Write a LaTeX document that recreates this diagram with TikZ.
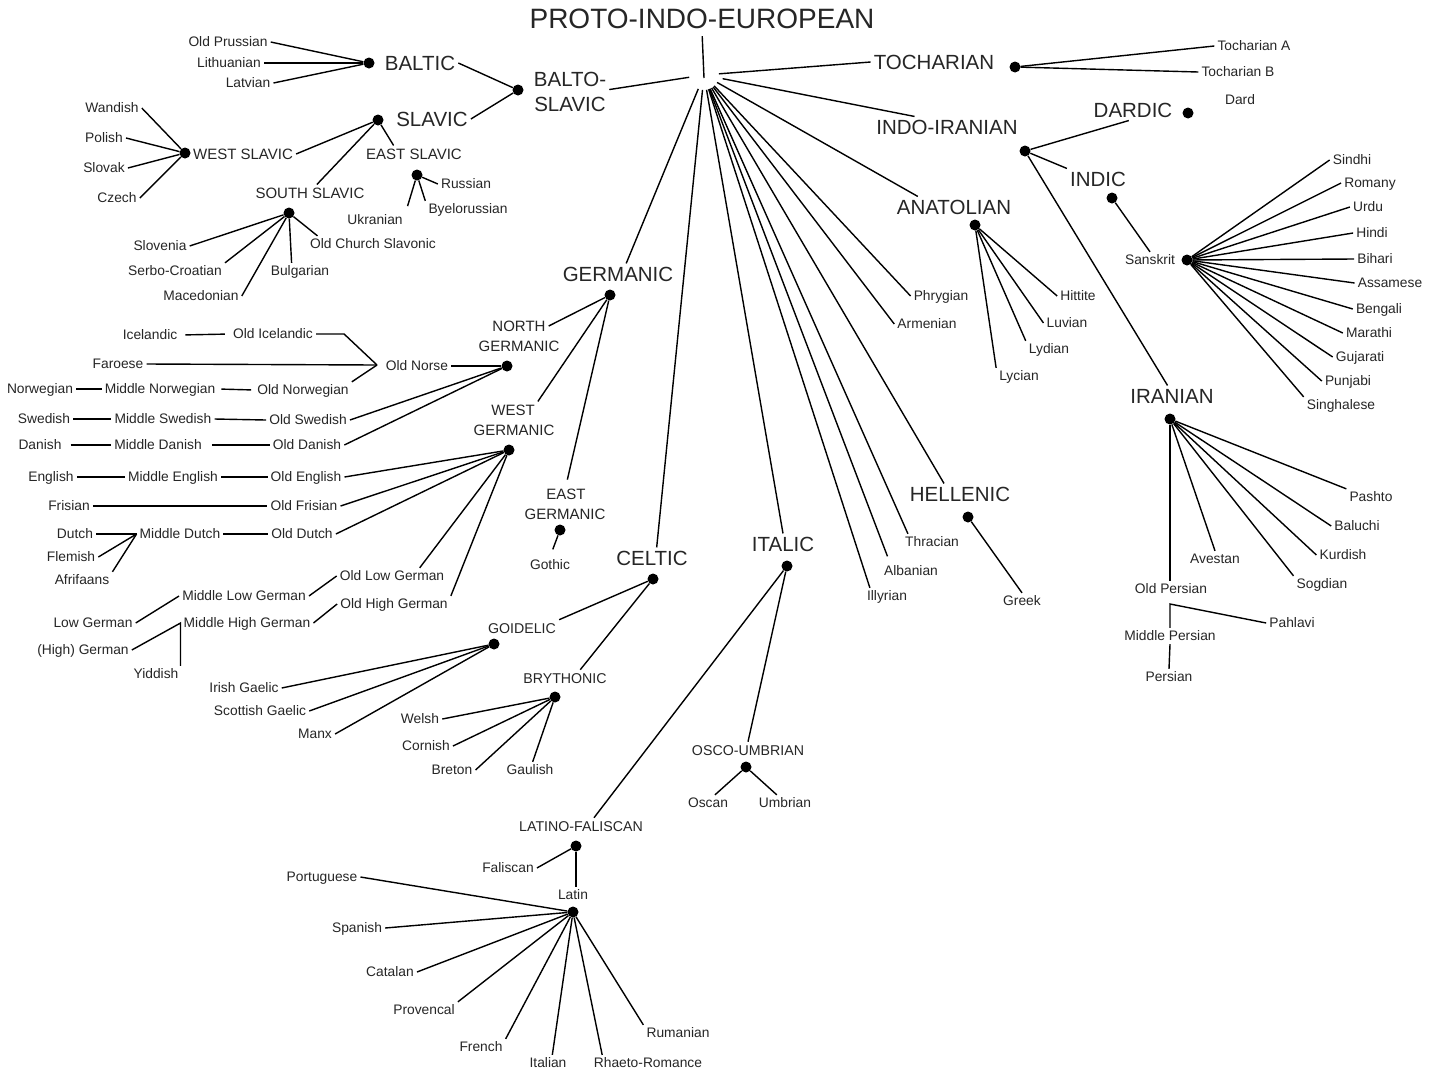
\documentclass[tikz,border=0pt]{standalone}
\usepackage{fontspec}
\setmainfont{Liberation Sans}
\usetikzlibrary{calc}
\begin{document}
\begin{tikzpicture}[x=1pt,y=-1pt]
\tikzset{
  lab/.style={inner xsep=3pt, inner ysep=3pt, text depth=0pt, text height=9.9pt, text=black!85, font=\fontsize{13.8}{16}\selectfont},
  mid/.style={lab, text height=10.7pt, font=\fontsize{15}{18}\selectfont},
  mids/.style={lab, text height=10.2pt, font=\fontsize{14.2}{17}\selectfont},
  big/.style={lab, text height=14.7pt, font=\fontsize{20.5}{24}\selectfont},
  ttl/.style={lab, text height=20pt, font=\fontsize{28}{32}\selectfont},
  jdot/.style={circle, fill=black, minimum size=11pt, inner sep=0pt},
  conn/.style={line width=1.4pt, black},
}
\fill[white] (0,0) rectangle (1442,1077);
\useasboundingbox (0,0) rectangle (1442,1077);

% ---------- title ----------
\node[ttl] (pie) at (702,18) {PROTO-INDO-EUROPEAN};
\coordinate (hub) at (704,75);
\coordinate (piebot) at (704,78);

% ---------- Baltic / Slavic ----------
\node[lab] (opr) at (228,42) {Old Prussian};
\node[lab] (lith) at (229,63) {Lithuanian};
\node[lab] (latv) at (248,83) {Latvian};
\node[big] (baltic) at (420,63) {BALTIC};
\node[jdot] (baltdot) at (369,63) {};
\node[big] (slavic) at (432,119) {SLAVIC};
\node[jdot] (slavdot) at (378,120) {};
\node[jdot] (bsdot) at (518,90) {};
\node[big] (bs1) at (570,79) {BALTO-};
\node[big] (bs2) at (570,104) {SLAVIC};
\node[lab] (wand) at (112,108) {Wandish};
\node[lab] (pol) at (104,138) {Polish};
\node[lab] (slovak) at (104,168) {Slovak};
\node[lab] (czech) at (117,198) {Czech};
\node[jdot] (wsdot) at (185,153) {};
\node[mid] (ws) at (243,154) {WEST SLAVIC};
\node[mid] (es) at (414,154) {EAST SLAVIC};
\node[mid] (ss) at (310,193) {SOUTH SLAVIC};
\node[jdot] (esdot) at (417,175) {};
\node[lab] (rus) at (466,184) {Russian};
\node[lab] (byel) at (468,209) {Byelorussian};
\node[lab] (ukr) at (375,220) {Ukranian};
\node[jdot] (ssdot) at (289,213) {};
\node[lab] (slvn) at (160,246) {Slovenia};
\node[lab] (serbo) at (175,271) {Serbo-Croatian};
\node[lab] (maced) at (201,296) {Macedonian};
\node[lab] (bulg) at (300,271) {Bulgarian};
\node[lab] (ocs) at (373,244) {Old Church Slavonic};

% ---------- Tocharian ----------
\node[big] (tochar) at (934,62) {TOCHARIAN};
\node[jdot] (tochdot) at (1015,67) {};
\node[lab] (tochA) at (1254,46) {Tocharian A};
\node[lab] (tochB) at (1238,72) {Tocharian B};
\node[lab] (dard) at (1240,100) {Dard};

% ---------- Indo-Iranian ----------
\node[big] (indoiran) at (947,127) {INDO-IRANIAN};
\node[jdot] (iidot) at (1025,151) {};
\node[big] (dardic) at (1133,110) {DARDIC};
\node[jdot] (darddot) at (1188,113) {};
\node[big] (indic) at (1098,179) {INDIC};
\node[jdot] (indicdot) at (1112,198) {};
\node[big] (iranian) at (1172,396) {IRANIAN};
\node[jdot] (irandot) at (1170,419) {};
\node[lab] (sansk) at (1150,260) {Sanskrit};
\node[jdot] (sanskdot) at (1187,260) {};
\node[lab] (sindhi) at (1352,160) {Sindhi};
\node[lab] (romany) at (1370,183) {Romany};
\node[lab] (urdu) at (1368,207) {Urdu};
\node[lab] (hindi) at (1372,233) {Hindi};
\node[lab] (bihari) at (1375,259) {Bihari};
\node[lab] (assam) at (1390,283) {Assamese};
\node[lab] (bengali) at (1379,309) {Bengali};
\node[lab] (marathi) at (1369,333) {Marathi};
\node[lab] (gujarati) at (1360,357) {Gujarati};
\node[lab] (punjabi) at (1348,381) {Punjabi};
\node[lab] (singh) at (1341,405) {Singhalese};
\node[lab] (pashto) at (1371,497) {Pashto};
\node[lab] (baluchi) at (1357,526) {Baluchi};
\node[lab] (kurdish) at (1343,555) {Kurdish};
\node[lab] (sogdian) at (1322,584) {Sogdian};
\node[lab] (avestan) at (1215,559) {Avestan};
\node[lab] (oldpers) at (1171,589) {Old Persian};
\node[lab] (midpers) at (1170,636) {Middle Persian};
\node[lab] (persian) at (1169,677) {Persian};
\node[lab] (pahlavi) at (1292,623) {Pahlavi};
\coordinate (opj) at (1170,604);

% ---------- Anatolian / others ----------
\node[big] (anat) at (954,207) {ANATOLIAN};
\node[jdot] (anatdot) at (975,225) {};
\node[lab] (hittite) at (1078,296) {Hittite};
\node[lab] (luvian) at (1067,323) {Luvian};
\node[lab] (lydian) at (1049,349) {Lydian};
\node[lab] (lycian) at (1019,376) {Lycian};
\node[lab] (phryg) at (941,296) {Phrygian};
\node[lab] (armen) at (927,324) {Armenian};
\node[big] (hell) at (960,494) {HELLENIC};
\node[jdot] (helldot) at (968,517) {};
\node[lab] (greek) at (1022,601) {Greek};
\node[lab] (thrac) at (932,542) {Thracian};
\node[lab] (alban) at (911,571) {Albanian};
\node[lab] (illyr) at (887,596) {Illyrian};

% ---------- Italic ----------
\node[big] (italic) at (783,544) {ITALIC};
\node[jdot] (italdot) at (787,566) {};
\node[mids] (osco) at (748,750) {OSCO-UMBRIAN};
\node[jdot] (oscodot) at (746,767) {};
\node[lab] (oscan) at (708,803) {Oscan};
\node[lab] (umbr) at (785,803) {Umbrian};
\node[mids] (lf) at (581,826) {LATINO-FALISCAN};
\node[jdot] (lfdot) at (576,846) {};
\node[lab] (fal) at (508,868) {Faliscan};
\node[lab] (latin) at (573,895) {Latin};
\node[jdot] (latindot) at (573,912) {};
\node[lab] (port) at (322,877) {Portuguese};
\node[lab] (span) at (357,928) {Spanish};
\node[lab] (catal) at (390,972) {Catalan};
\node[lab] (prov) at (424,1010) {Provencal};
\node[lab] (french) at (481,1047) {French};
\node[lab] (italian) at (548,1063) {Italian};
\node[lab] (rhaeto) at (648,1063) {Rhaeto-Romance};
\node[lab] (ruman) at (678,1033) {Rumanian};

% ---------- Celtic ----------
\node[big] (celtic) at (652,558) {CELTIC};
\node[jdot] (celtdot) at (653,579) {};
\node[mids] (goid) at (522,628) {GOIDELIC};
\node[jdot] (goiddot) at (494,644) {};
\node[lab] (irish) at (244,688) {Irish Gaelic};
\node[lab] (scot) at (260,711) {Scottish Gaelic};
\node[lab] (manx) at (315,734) {Manx};
\node[mids] (bryth) at (565,678) {BRYTHONIC};
\node[jdot] (brythdot) at (555,697) {};
\node[lab] (welsh) at (420,719) {Welsh};
\node[lab] (cornish) at (426,746) {Cornish};
\node[lab] (breton) at (452,770) {Breton};
\node[lab] (gaulish) at (530,770) {Gaulish};

% ---------- Germanic ----------
\node[big] (germ) at (618,274) {GERMANIC};
\node[jdot] (germdot) at (610,295) {};
\node[mid] (ng1) at (519,326) {NORTH};
\node[mid] (ng2) at (519,346) {GERMANIC};
\node[jdot] (ngdot) at (507,366) {};
\node[mid] (wg1) at (513,410) {WEST};
\node[mid] (wg2) at (514,430) {GERMANIC};
\node[jdot] (wgdot) at (509,450) {};
\node[mid] (eg1) at (566,494) {EAST};
\node[mid] (eg2) at (565,514) {GERMANIC};
\node[jdot] (egdot) at (560,530) {};
\node[lab] (gothic) at (550,565) {Gothic};
\node[lab] (oldnorse) at (417,366) {Old Norse};
\coordinate (onj) at (377,365);
\node[lab] (icel) at (150,335) {Icelandic};
\node[lab] (oicel) at (273,334) {Old Icelandic};
\node[lab] (faroese) at (118,364) {Faroese};
\node[lab] (norw) at (40,389) {Norwegian};
\node[lab] (mnorw) at (160,389) {Middle Norwegian};
\node[lab] (onorw) at (303,390) {Old Norwegian};
\node[lab] (swed) at (44,419) {Swedish};
\node[lab] (mswed) at (163,419) {Middle Swedish};
\node[lab] (oswed) at (308,420) {Old Swedish};
\node[lab] (dan) at (40,445) {Danish};
\node[lab] (mdan) at (158,445) {Middle Danish};
\node[lab] (odan) at (307,445) {Old Danish};
\node[lab] (eng) at (51,477) {English};
\node[lab] (meng) at (173,477) {Middle English};
\node[lab] (oeng) at (306,477) {Old English};
\node[lab] (fris) at (69,506) {Frisian};
\node[lab] (ofris) at (304,506) {Old Frisian};
\node[lab] (dutch) at (75,534) {Dutch};
\node[lab] (mdutch) at (180,534) {Middle Dutch};
\node[lab] (odutch) at (302,534) {Old Dutch};
\node[lab] (flem) at (71,557) {Flemish};
\node[lab] (afri) at (82,580) {Afrifaans};
\node[lab] (olg) at (392,576) {Old Low German};
\node[lab] (ohg) at (394,604) {Old High German};
\node[lab] (mlg) at (244,596) {Middle Low German};
\node[lab] (mhg) at (247,623) {Middle High German};
\node[lab] (lowg) at (93,623) {Low German};
\node[lab] (highg) at (83,650) {(High) German};
\node[lab] (yid) at (156,674) {Yiddish};

% ================= connectors =================
% PIE hub
\draw[conn, shorten <=5pt] (pie.south) -- (piebot);
\begin{scope}[conn, shorten <=15pt]
\draw (hub) -- (bs1.south east);
\draw (hub) -- (tochar.west);
\draw[shorten <=19pt] (hub) -- ($(indoiran.north west)!0.28!(indoiran.north east)$);
\draw (hub) -- ($(anat.north west)!0.2!(anat.north east)$);
\draw (hub) -- (phryg.west);
\draw (hub) -- (armen.west);
\draw (hub) -- ($(hell.north west)!0.35!(hell.north east)$);
\draw (hub) -- ($(thrac.north west)!0.1!(thrac.north east)$);
\draw[shorten >=7pt] (hub) -- ($(alban.north west)!0.15!(alban.north east)$);
\draw (hub) -- ($(illyr.north west)!0.13!(illyr.north east)$);
\draw (hub) -- (italic.north);
\draw (hub) -- ($(celtic.north west)!0.56!(celtic.north east)$);
\draw (hub) -- ($(germ.north west)!0.57!(germ.north east)$);
\end{scope}

% Baltic / Slavic
\draw[conn] (opr.east) -- (baltdot);
\draw[conn] (lith.east) -- (baltdot);
\draw[conn] (latv.east) -- (baltdot);
\draw[conn] (baltic.east) -- (bsdot);
\draw[conn] (slavic.east) -- (bsdot);
\draw[conn] (ws.east) -- (slavdot);
\draw[conn] (slavdot) -- ($(es.north west)!0.3!(es.north east)$);
\draw[conn] (slavdot) -- ($(ss.north west)!0.56!(ss.north east)$);
\draw[conn] (wand.east) -- (wsdot);
\draw[conn] (pol.east) -- (wsdot);
\draw[conn] (slovak.east) -- (wsdot);
\draw[conn] (czech.east) -- (wsdot);
\draw[conn] (esdot) -- (rus.west);
\draw[conn] (esdot) -- (byel.north west);
\draw[conn, shorten >=6pt] (esdot) -- (ukr.north east);
\draw[conn] (slvn.east) -- (ssdot);
\draw[conn] (serbo.north east) -- (ssdot);
\draw[conn] (maced.east) -- (ssdot);
\draw[conn] (ssdot) -- ($(bulg.north west)!0.37!(bulg.north east)$);
\draw[conn] (ssdot) -- ($(ocs.north west)!0.08!(ocs.north east)$);

% Tocharian
\draw[conn] (tochdot) -- (tochA.west);
\draw[conn] (tochdot) -- (tochB.west);

% Indo-Iranian
\draw[conn] (iidot) -- ($(dardic.south west)!0.45!(dardic.south east)$);
\draw[conn] (iidot) -- (indic.north west);
\draw[conn] (iidot) -- ($(iranian.north west)!0.45!(iranian.north east)$);
\draw[conn] (indicdot) -- (sansk.north);
\foreach \t in {sindhi,romany,urdu,hindi,bihari,assam,bengali,marathi,gujarati,punjabi}
  \draw[conn] (sanskdot) -- (\t.west);
\draw[conn] (sanskdot) -- (singh.north west);
\draw[conn] (irandot) -- (pashto.north west);
\draw[conn] (irandot) -- (baluchi.west);
\draw[conn] (irandot) -- (kurdish.west);
\draw[conn] (irandot) -- (sogdian.north west);
\draw[conn] (irandot) -- (avestan.north);
\draw[conn] (irandot) -- (irandot |- oldpers.north);
\draw[conn] (midpers.north) -- (opj) -- (pahlavi.west);
\draw[conn] (midpers.south) -- (persian.north);

% Anatolian, Hellenic
\draw[conn] (anatdot) -- (hittite.west);
\draw[conn] (anatdot) -- (luvian.west);
\draw[conn] (anatdot) -- (lydian.north west);
\draw[conn] (anatdot) -- (lycian.north west);
\draw[conn] (helldot) -- (greek.north);

% Italic
\draw[conn] (italdot) -- ($(lf.north west)!0.6!(lf.north east)$);
\draw[conn] (italdot) -- (osco.north);
\draw[conn] (oscodot) -- ($(oscan.north west)!0.65!(oscan.north east)$);
\draw[conn] (oscodot) -- ($(umbr.north west)!0.36!(umbr.north east)$);
\draw[conn] (fal.east) -- (lfdot);
\draw[conn] (lfdot) -- (lfdot |- latin.north);
\draw[conn] (port.east) -- (latindot);
\draw[conn] (span.east) -- (latindot);
\draw[conn] (catal.east) -- (latindot);
\draw[conn] (prov.north east) -- (latindot);
\draw[conn] (french.north east) -- (latindot);
\draw[conn] ($(italian.north west)!0.6!(italian.north east)$) -- (latindot);
\draw[conn] ($(rhaeto.north west)!0.1!(rhaeto.north east)$) -- (latindot);
\draw[conn] (ruman.north west) -- (latindot);

% Celtic
\draw[conn] (celtdot) -- (goid.north east);
\draw[conn] (celtdot) -- ($(bryth.north west)!0.67!(bryth.north east)$);
\draw[conn] (irish.east) -- (goiddot);
\draw[conn] (scot.east) -- (goiddot);
\draw[conn] (manx.east) -- (goiddot);
\draw[conn] (welsh.east) -- (brythdot);
\draw[conn] (cornish.east) -- (brythdot);
\draw[conn] (breton.east) -- (brythdot);
\draw[conn] (brythdot) -- ($(gaulish.north west)!0.55!(gaulish.north east)$);

% Germanic
\draw[conn] (germdot) -- (ng1.east);
\draw[conn] (germdot) -- (wg1.north east);
\draw[conn, shorten >=6pt] (germdot) -- (eg1.north);
\draw[conn, shorten >=8pt] (egdot) -- (gothic.north);
\draw[conn] (oldnorse.east) -- (ngdot);
\draw[conn] (ngdot) -- (oswed.east);
\draw[conn] (ngdot) -- (odan.east);
\draw[conn] (oicel.east) -- ++(28,0) -- (onj);
\draw[conn] (faroese.east) -- (onj);
\draw[conn] (onorw.north east) -- (onj);
\draw[conn, shorten <=5pt, shorten >=5pt] (icel.east) -- (oicel.west);
\draw[conn] (norw.east) -- (mnorw.west);
\draw[conn, shorten <=3pt, shorten >=3pt] (mnorw.east) -- (onorw.west);
\draw[conn] (swed.east) -- (mswed.west);
\draw[conn] (mswed.east) -- (oswed.west);
\draw[conn, shorten <=6pt] (dan.east) -- (mdan.west);
\draw[conn, shorten <=7pt] (mdan.east) -- (odan.west);
\draw[conn] (eng.east) -- (meng.west);
\draw[conn] (meng.east) -- (oeng.west);
\draw[conn] (fris.east) -- (ofris.west);
\draw[conn] (dutch.east) -- (mdutch.west);
\draw[conn] (flem.east) -- (mdutch.west);
\draw[conn] (afri.north east) -- (mdutch.west);
\draw[conn] (mdutch.east) -- (odutch.west);
\draw[conn] (wgdot) -- (oeng.east);
\draw[conn] (wgdot) -- (ofris.east);
\draw[conn] (wgdot) -- (odutch.east);
\draw[conn] (wgdot) -- ($(olg.north west)!0.75!(olg.north east)$);
\draw[conn] (wgdot) -- (ohg.north east);
\draw[conn] (mlg.east) -- (olg.west);
\draw[conn] (mhg.east) -- (ohg.west);
\draw[conn] (lowg.east) -- (mlg.west);
\draw[conn] (highg.east) -- (mhg.west) -- (mhg.west |- yid.north);
\end{tikzpicture}
\end{document}
